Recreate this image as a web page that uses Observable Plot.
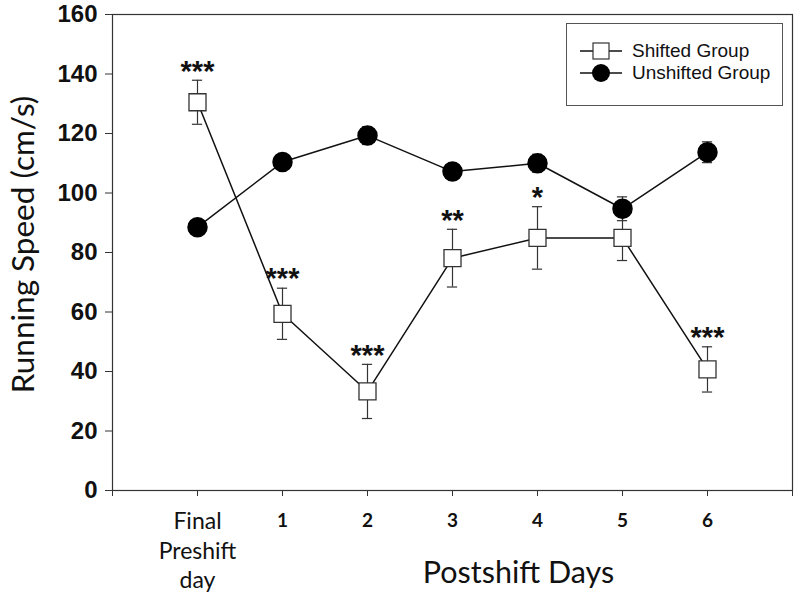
<!DOCTYPE html>
<html>
<head>
<meta charset="utf-8">
<script src="https://cdn.jsdelivr.net/npm/d3@7"></script>
<script src="https://cdn.jsdelivr.net/npm/@observablehq/plot@0.6"></script>
<style>
  html, body { margin: 0; padding: 0; background: white; }
  #wrap { position: relative; width: 800px; height: 599px; }
  #legend {
    position: absolute; left: 566px; top: 23px; width: 217px; height: 83px;
    border: 1px solid #555; box-sizing: border-box; background: white;
    font-family: "Liberation Sans", Arial, sans-serif; font-size: 19px; color: #111;
  }
  .row { position: absolute; left: 0; height: 22px; display: flex; align-items: center; }
  .row svg { margin-left: 13px; margin-right: 10px; }
</style>
</head>
<body>
<div id="wrap"></div>
<script>
// ---- data ----
const dayIndex = [0, 1, 2, 3, 4, 5, 6];
const dayLabels = ["Final\nPreshift\nday", "1", "2", "3", "4", "5", "6"];
const shiftedMean = [130.5, 59.4, 33.3, 78.1, 84.9, 84.9, 40.7];
const shiftedErr = [7.4, 8.6, 9.1, 9.7, 10.5, 7.6, 7.6];
const shiftedStars = ["***", "***", "***", "**", "*", "", "***"];
const unshiftedMean = [88.5, 110.4, 119.3, 107.2, 110.0, 94.7, 113.7];
const unshiftedErr = [1.5, 2.0, 3.0, 2.0, 3.0, 4.0, 3.5];
const yTicks = [0, 20, 40, 60, 80, 100, 120, 140, 160];
const xTickMarks = [-1, 0, 1, 2, 3, 4, 5, 6, 7];
const seriesNames = ["Shifted Group", "Unshifted Group"];
const yTitle = "Running Speed (cm/s)";
const xTitle = "Postshift Days";

const shifted = dayIndex.map((x, i) => ({x, mean: shiftedMean[i], err: shiftedErr[i], stars: shiftedStars[i]}));
const unshifted = dayIndex.map((x, i) => ({x, mean: unshiftedMean[i], err: unshiftedErr[i]}));

const capHalf = 0.06;
const calibri = "Lato, 'Open Sans', sans-serif";
const arial = "'Liberation Sans', Arial, sans-serif";

const errMarks = (data, stroke) => [
  Plot.ruleX(data, {x: "x", y1: d => d.mean - d.err, y2: d => d.mean + d.err, stroke, strokeWidth: 1.2}),
  Plot.ruleY(data, {y: d => d.mean + d.err, x1: d => d.x - capHalf, x2: d => d.x + capHalf, stroke, strokeWidth: 1.2}),
  Plot.ruleY(data, {y: d => d.mean - d.err, x1: d => d.x - capHalf, x2: d => d.x + capHalf, stroke, strokeWidth: 1.2})
];

const chart = Plot.plot({
  width: 800,
  height: 599,
  marginLeft: 112,
  marginRight: 8,
  marginTop: 14,
  marginBottom: 109,
  x: {domain: [-1, 7]},
  y: {domain: [0, 160]},
  style: {background: "white", color: "#111"},
  marks: [
    Plot.frame({stroke: "#333", strokeWidth: 1.2}),
    Plot.axisY({ticks: yTicks, tickSize: 7, tickPadding: 8, label: null, fontSize: 24, fontWeight: "bold", fontFamily: arial, stroke: "#333"}),
    Plot.axisX({ticks: xTickMarks, tickSize: 6, tickFormat: () => "", label: null, stroke: "#333"}),
    Plot.axisX({ticks: [0], tickSize: 0, tickPadding: 18, tickFormat: i => dayLabels[i], label: null, fontSize: 23, fontFamily: calibri, lineHeight: 1.28}),
    Plot.axisX({ticks: dayIndex.slice(1), tickSize: 0, tickPadding: 23, tickFormat: i => dayLabels[i], label: null, fontSize: 19, fontWeight: "bold", fontFamily: calibri}),
    Plot.text([yTitle], {frameAnchor: "left", textAnchor: "middle", rotate: -90, dx: -89, dy: -8, fontSize: 31.5, fontFamily: calibri, fill: "#111"}),
    Plot.text([xTitle], {frameAnchor: "bottom", dx: 66, dy: 92, fontSize: 30.5, fontFamily: calibri, fill: "#111"}),
    Plot.line(shifted, {x: "x", y: "mean", stroke: "#111", strokeWidth: 1.5}),
    Plot.line(unshifted, {x: "x", y: "mean", stroke: "#111", strokeWidth: 1.5}),
    ...errMarks(shifted, "#333"),
    ...errMarks(unshifted, "#333"),
    Plot.dot(shifted, {x: "x", y: "mean", symbol: "square", r: 9.6, fill: "white", stroke: "#333", strokeWidth: 1.3}),
    Plot.dot(unshifted, {x: "x", y: "mean", symbol: "circle", r: 9.5, fill: "black", stroke: "black"}),
    Plot.text(shifted.filter(d => d.stars), {x: "x", y: d => d.mean + d.err, text: "stars", dy: -9, fontSize: 29, fontWeight: "bold", fontFamily: arial, fill: "#111"})
  ]
});

const wrap = document.getElementById("wrap");
wrap.appendChild(chart);

// legend (HTML overlay)
const legend = document.createElement("div");
legend.id = "legend";
const symbols = [
  `<svg width="42" height="20"><line x1="0" y1="10" x2="42" y2="10" stroke="#111" stroke-width="1.3"/><rect x="13" y="2" width="16" height="16" fill="white" stroke="#333" stroke-width="1.2"/></svg>`,
  `<svg width="42" height="20"><line x1="0" y1="10" x2="42" y2="10" stroke="#111" stroke-width="1.3"/><circle cx="21" cy="10" r="9" fill="black"/></svg>`
];
seriesNames.forEach((name, i) => {
  const row = document.createElement("div");
  row.className = "row";
  row.style.top = (16 + i * 22) + "px";
  row.innerHTML = symbols[i] + `<span>${name}</span>`;
  legend.appendChild(row);
});
wrap.appendChild(legend);
</script>
</body>
</html>
